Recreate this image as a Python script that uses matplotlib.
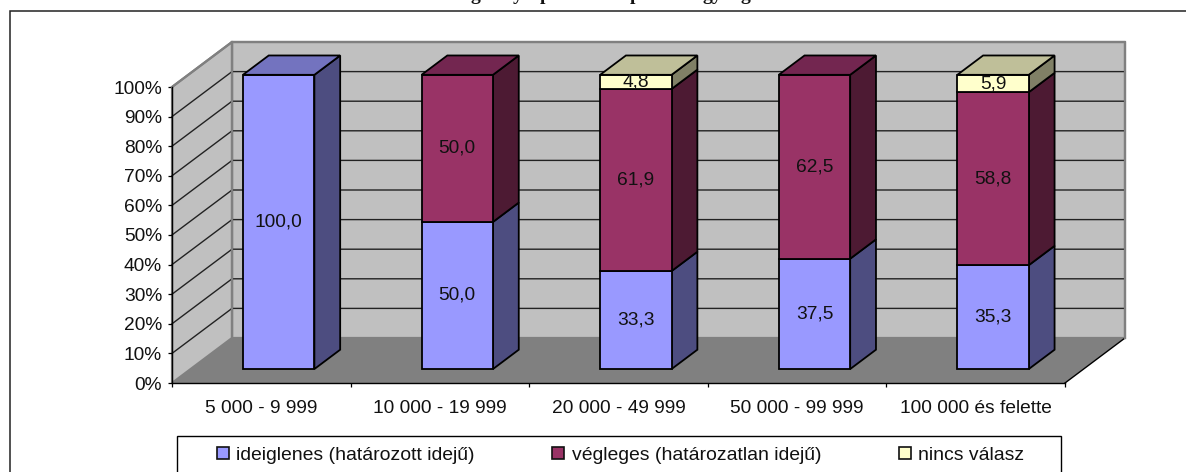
import matplotlib
matplotlib.use("Agg")
import matplotlib.pyplot as plt
from matplotlib.patches import Polygon, Rectangle
from matplotlib.lines import Line2D

plt.rcParams['font.family'] = ['Liberation Sans', 'DejaVu Sans']

categories = ['5 000 - 9 999', '10 000 - 19 999', '20 000 - 49 999', '50 000 - 99 999', '100 000 és felette']
ideiglenes = [100.0, 50.0, 33.3, 37.5, 35.3]
vegleges = [0.0, 50.0, 61.9, 62.5, 58.8]
nincs = [0.0, 0.0, 4.8, 0.0, 5.9]
series_names = ['ideiglenes (határozott idejű)', 'végleges (határozatlan idejű)', 'nincs válasz']
y_ticks = [0, 10, 20, 30, 40, 50, 60, 70, 80, 90, 100]
title_fragments = ['g', 'y', 'p', 'p', 'gy', 'g']
title_positions = [475, 518, 545, 635, 712, 745]

W, H = 1186, 472
FS = 13.8
fig = plt.figure(figsize=(W / 100, H / 100), dpi=100, facecolor='white')

# Outer frame, cut off by the right and bottom edges of the picture
fig.add_artist(Rectangle((10 / W, -0.2), 1.3, 1.2 - 10.5 / H, transform=fig.transFigure,
                         fill=False, ec='#222222', lw=1.1))

for frag, px in zip(title_fragments, title_positions):
    fig.text(px / W, 1 + 0.5 / H, frag, family='Liberation Serif', weight='bold', fontsize=14,
             ha='center', va='baseline', color='#111111')

# Axes = front plane of the 3D box
X0, X1, Y0, Y1 = 172, 1065, 383, 87
ax = fig.add_axes([X0 / W, 1 - Y0 / H, (X1 - X0) / W, (Y0 - Y1) / H])
ax.set_xlim(0, 5)
ax.set_ylim(0, 100)
ax.patch.set_visible(False)

DX = 60 / ((X1 - X0) / 5)      # depth shift, category units
DY = 45 / ((Y0 - Y1) / 100)    # depth shift, percent units


def P(x, y, z):
    return (x + z * DX, y + z * DY)


def poly(pts, fc, ec='black', lw=1.3, zo=2):
    ax.add_patch(Polygon(pts, closed=True, fc=fc, ec=ec, lw=lw, zorder=zo,
                         clip_on=False, joinstyle='miter'))


# Walls and floor
poly([P(0, 0, 1), P(0, 100, 1), P(5, 100, 1), P(5, 0, 1)], '#C0C0C0', ec='#808080', lw=1.6, zo=1)
poly([P(0, 0, 0), P(0, 100, 0), P(0, 100, 1), P(0, 0, 1)], '#C0C0C0', ec='#808080', lw=1.6, zo=1)
poly([P(0, 0, 0), P(0, 0, 1), P(5, 0, 1), P(5, 0, 0)], '#808080', ec='none', lw=0, zo=1.2)
ax.plot(*zip(P(5, 0, 0), P(5, 0, 1)), color='black', lw=1, zorder=1.4, clip_on=False)

for v in y_ticks[1:-1]:
    ax.plot(*zip(P(0, v, 0), P(0, v, 1), P(5, v, 1)), color='#222222', lw=1.0, zorder=1.5, clip_on=False)
ax.plot(*zip(P(0, 100, 0), P(0, 100, 1), P(5, 100, 1), P(5, 0, 1)), color='#808080', lw=1.6,
        zorder=1.6, clip_on=False)
ax.plot(*zip(P(0, 100, 1), P(0, 0, 1)), color='#808080', lw=1.6, zorder=1.6, clip_on=False)

# Stacked 3D bars
stack = [ideiglenes, vegleges, nincs]
front_col = ['#9999FF', '#993366', '#FFFFCC']
side_col = ['#4D4D80', '#4D1A33', '#808066']
top_col = ['#7373BF', '#732650', '#BFBF99']
BW = 0.40
Z0, Z1 = 0.31, 0.74
XSHIFT = -0.007     # small sideways offset of the bars, category units
YS = 0.994          # foreshortening of the bars' height

for i in range(len(categories)):
    x0 = i + 0.5 - BW / 2 + XSHIFT
    x1 = x0 + BW
    base = 0.0
    last = max(k for k in range(3) if stack[k][i] > 0)
    labels = []
    for k in range(3):
        v = stack[k][i]
        if v <= 0:
            continue
        top = base + v
        yb, yt = base * YS, top * YS
        poly([P(x1, yb, Z0), P(x1, yt, Z0), P(x1, yt, Z1), P(x1, yb, Z1)], side_col[k], zo=3)
        poly([P(x0, yb, Z0), P(x0, yt, Z0), P(x1, yt, Z0), P(x1, yb, Z0)], front_col[k], zo=3)
        if k == last:
            poly([P(x0, yt, Z0), P(x0, yt, Z1), P(x1, yt, Z1), P(x1, yt, Z0)], top_col[k], zo=3)
        labels.append((f'{v:.1f}'.replace('.', ','), P((x0 + x1) / 2, (yb + yt) / 2, Z0)))
        base = top
    for txt, (lx, ly) in labels:
        ax.text(lx, ly, txt, ha='center', va='center', fontsize=FS, color='#111111', zorder=5)

# Axes ticks and labels
for s in ('top', 'right'):
    ax.spines[s].set_visible(False)
for s in ('left', 'bottom'):
    ax.spines[s].set_color('black')
    ax.spines[s].set_linewidth(1.0)
    ax.spines[s].set_zorder(2)
ax.set_yticks(y_ticks)
ax.set_yticklabels([f'{v}%' for v in y_ticks], fontsize=FS, color='#111111')
ax.tick_params(axis='y', length=3.2, width=0.9, pad=4, color='black')
ax.set_xticks(range(6))
ax.set_xticklabels([])
ax.tick_params(axis='x', which='major', length=3.2, width=0.9)
ax.set_xticks([i + 0.5 for i in range(5)], minor=True)
ax.set_xticklabels(categories, minor=True, fontsize=FS, color='#111111')
ax.tick_params(axis='x', which='minor', length=0, pad=12.5)

# Legend: the box runs past the bottom of the picture
fig.add_artist(Rectangle((176.5 / W, -0.1), (1061 - 176.5) / W, 0.1 + 1 - 435.5 / H,
                         transform=fig.transFigure, fc='white', ec='black', lw=1.0))
handles = [Line2D([], [], ls='none', marker='s', ms=8.4, mfc=c, mec='#111111', mew=1.2) for c in front_col]
leg = fig.legend(handles, series_names, ncol=3, loc='center left',
                 bbox_to_anchor=(214 / W, 1 - 455 / H), borderaxespad=0, borderpad=0,
                 frameon=False, fontsize=13.95, labelcolor='#111111', handlelength=0.9,
                 handletextpad=0.24, columnspacing=3.87, labelspacing=0)

fig.savefig('out.png', dpi=100)
